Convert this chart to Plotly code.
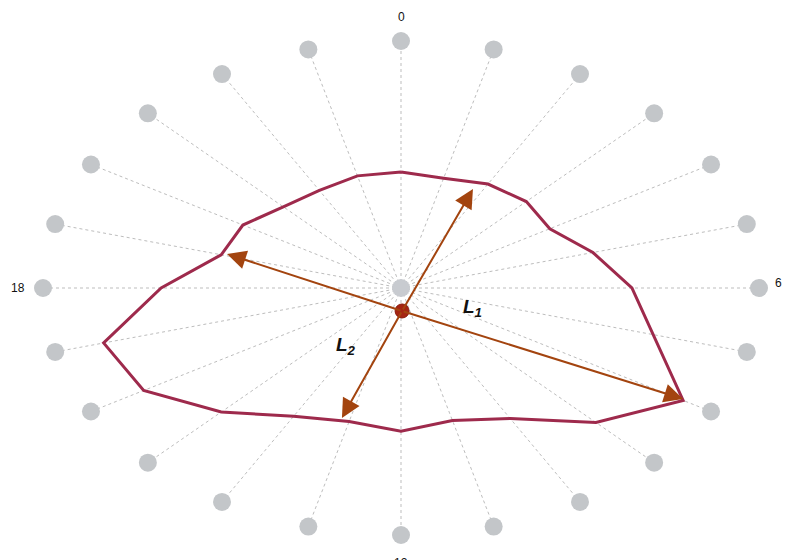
import numpy as np
import plotly.graph_objects as go

# --- data -------------------------------------------------------------
hours = list(range(24))
profile_r = [0.47, 0.46, 0.486, 0.495, 0.48, 0.555, 0.645, 0.73, 0.91, 0.77,
             0.61, 0.555, 0.58, 0.56, 0.60, 0.71, 0.83, 0.86, 0.67, 0.52,
             0.51, 0.465, 0.456, 0.47]
tick_hours = [0, 6, 12, 18]
tick_labels = ["0", "6", "12", "18"]
tick_label_r = [1.097, 1.055, 1.075, 1.071]
tick_xanchor = ["center", "center", "center", "center"]
tick_yanchor = ["middle", "middle", "top", "middle"]
centroid = (0.003, -0.093)
L1_ends = [(-0.486, 0.138), (0.788, -0.449)]
L2_ends = [(0.201, 0.401), (-0.165, -0.526)]
L1_label = (0.2, -0.08)
L2_label = (-0.155, -0.235)

# --- geometry helpers --------------------------------------------------
def to_xy(h, r):
    a = np.deg2rad(15.0 * np.asarray(h))
    return np.asarray(r) * np.sin(a), np.asarray(r) * np.cos(a)

fig = go.Figure()

# dashed spokes
sx, sy = [], []
for h in hours:
    x, y = to_xy(h, 1.0)
    sx += [0, float(x), None]
    sy += [0, float(y), None]
fig.add_trace(go.Scatter(x=sx, y=sy, mode="lines",
                         line=dict(color="#bdbdbd", width=1, dash="3px,3px"),
                         hoverinfo="skip"))

# outer gray dots
dx, dy = to_xy(hours, np.ones(24))
fig.add_trace(go.Scatter(x=dx, y=dy, mode="markers",
                         marker=dict(size=18, color="#c3c6c9"),
                         hoverinfo="skip"))
# center gray dot
fig.add_trace(go.Scatter(x=[0], y=[0], mode="markers",
                         marker=dict(size=18, color="#c8cbd0"),
                         hoverinfo="skip"))

# profile polygon
px, py = to_xy(hours + [hours[0]], profile_r + [profile_r[0]])
fig.add_trace(go.Scatter(x=px, y=py, mode="lines",
                         line=dict(color="#9e2a4c", width=3),
                         hoverinfo="skip"))

# arrows
for ends in (L1_ends, L2_ends):
    for ex, ey in ends:
        fig.add_annotation(x=ex, y=ey, ax=centroid[0], ay=centroid[1],
                           xref="x", yref="y", axref="x", ayref="y",
                           showarrow=True, arrowhead=2, arrowsize=1.9,
                           arrowwidth=2, arrowcolor="#a3440f", text="")

# centroid dot
fig.add_trace(go.Scatter(x=[centroid[0]], y=[centroid[1]], mode="markers",
                         marker=dict(size=14, color="#a52412",
                                     line=dict(color="#8a1a0c", width=1)),
                         hoverinfo="skip"))

# tick labels
for h, t, r, xa, ya in zip(tick_hours, tick_labels, tick_label_r, tick_xanchor, tick_yanchor):
    x, y = to_xy(h, r)
    if t == "6":
        y = y + 0.02
    fig.add_annotation(x=float(x), y=float(y), text=t, showarrow=False,
                       xanchor=xa, yanchor=ya,
                       font=dict(family="Liberation Sans, Arial", size=12, color="#111"))

# L labels
fig.add_annotation(x=L1_label[0], y=L1_label[1], text="<b><i>L<sub>1</sub></i></b>",
                   showarrow=False, font=dict(family="Liberation Sans, Arial", size=19, color="#111"))
fig.add_annotation(x=L2_label[0], y=L2_label[1], text="<b><i>L<sub>2</sub></i></b>",
                   showarrow=False, font=dict(family="Liberation Sans, Arial", size=19, color="#111"))

# the page body adds an 8px offset; centre lands at (401, 288) on screen
fig.update_layout(
    width=782, height=552, margin=dict(l=0, r=0, t=0, b=0),
    paper_bgcolor="white", plot_bgcolor="white", showlegend=False,
    xaxis=dict(range=[-393 / 358, 389 / 358], visible=False, fixedrange=True),
    yaxis=dict(range=[-272 / 247, 280 / 247], visible=False, fixedrange=True),
)

fig.write_html(
    "out.html",
    post_script="document.documentElement.style.overflow='hidden';"
                "document.body.style.overflow='hidden';",
)
